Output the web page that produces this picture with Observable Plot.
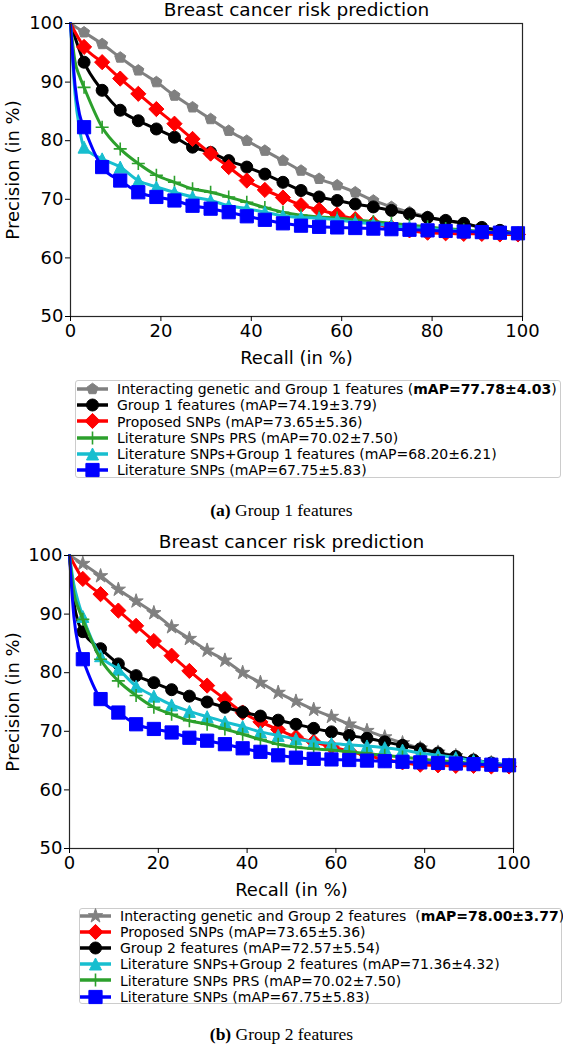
<!DOCTYPE html>
<html><head><meta charset="utf-8">
<script src="https://cdn.jsdelivr.net/npm/d3@7"></script>
<script src="https://cdn.jsdelivr.net/npm/@observablehq/plot@0.6"></script>
<style>
body{margin:0;background:#fff;}
#page{position:relative;width:563px;height:1045px;overflow:hidden;background:#fff;font-family:"DejaVu Sans",sans-serif;}
.panel{position:absolute;left:0;}
.legend{position:absolute;border:1px solid #cccccc;border-radius:3px;background:#fff;box-sizing:border-box;}
.row{position:absolute;height:16px;line-height:16px;font-size:14px;white-space:pre;color:#000;font-family:"DejaVu Sans",sans-serif;}
.sw{position:absolute;overflow:visible;}
.caption{position:absolute;left:0;width:563px;text-align:center;font-family:"Liberation Serif","Times New Roman",serif;font-size:17.5px;line-height:17px;color:#000;}
</style></head><body><div id="page"></div><script>
// ---------- data ----------
const title = "Breast cancer risk prediction";
const xLabel = "Recall (in %)";
const yLabel = "Precision (in %)";
const xTicks = [0, 20, 40, 60, 80, 100];
const yTicks = [50, 60, 70, 80, 90, 100];

// recall positions of the markers
const recall = [3,7,11,15,19,23,27,31,35,39,43,47,51,55,59,63,67,71,75,79,83,87,91,95,99];
// recall positions of the curve start (no markers)
const leadRecall = [0, 1, 2];

// panel (a)
const interact1Lead = [100, null, null];
const interact1Prec = [98.5,96.5,94.2,92.0,90.0,87.7,85.7,83.7,81.7,80.0,78.3,76.6,74.9,73.5,72.4,71.2,69.8,68.7,67.8,67.0,66.4,65.8,65.2,64.6,64.1];
const group1Lead = [100, null, null];
const group1Prec = [93.4,88.6,85.2,83.4,82.0,80.6,78.9,78.0,76.6,75.5,74.3,72.9,71.5,70.4,69.8,69.2,68.7,68.1,67.5,66.9,66.4,65.9,65.2,64.7,64.1];
const litGroup1Lead = [100, 88, 82];
const litGroup1Prec = [78.9,76.9,75.5,73.2,72.1,71.2,70.4,69.8,68.9,68.4,67.8,67.2,66.9,66.8,66.5,66.1,65.8,65.5,65.2,65.0,64.8,64.6,64.4,64.3,64.2];

// panel (b)
const interact2Lead = [100, null, null];
const interact2Prec = [98.6,96.5,94.2,92.2,90.2,87.8,85.8,83.8,82.1,80.0,78.3,76.6,75.1,73.7,72.5,71.2,70.1,69.0,68.0,67.1,66.4,65.8,65.1,64.6,64.2];
const group2Lead = [100, 92, 88.5];
const group2Prec = [87.0,84.1,81.5,79.5,78.3,77.1,76.0,75.0,74.1,73.3,72.6,71.9,71.2,70.5,69.9,69.3,68.8,68.2,67.6,67.0,66.3,65.7,65.1,64.6,64.2];
const litGroup2Lead = [100, 95, 92];
const litGroup2Prec = [89.6,82.9,80.6,77.7,76.0,74.5,73.4,72.5,71.6,70.8,69.9,69.3,68.7,68.2,67.9,67.7,67.5,67.2,66.8,66.3,65.9,65.5,65.0,64.6,64.2];

// shared by both panels
const proposedLead = [100, null, null];
const proposedPrec = [96.0,93.4,90.6,88.0,85.4,82.9,80.3,77.8,75.5,73.2,71.6,70.3,69.0,68.2,67.4,66.6,65.9,65.2,64.7,64.3,64.2,64.1,64.1,64.0,64.0];
const prsLead = [100, 93.5, 91];
const prsPrec = [89.1,82.3,78.6,76.1,74.1,72.9,71.8,71.2,70.4,69.5,68.6,67.8,67.3,67.0,66.8,66.5,66.2,65.9,65.6,65.3,65.0,64.8,64.5,64.3,64.2];
const litLead = [100, 89.5, 84.5];
const litPrec = [82.3,75.5,73.2,71.2,70.4,69.8,68.9,68.4,67.8,67.1,66.5,65.9,65.5,65.3,65.2,65.1,65.0,64.9,64.8,64.7,64.6,64.5,64.4,64.3,64.2];

// legend texts
const legendA = ["Interacting genetic and Group 1 features (", "Group 1 features (mAP=74.19±3.79)", "Proposed SNPs (mAP=73.65±5.36)", "Literature SNPs PRS (mAP=70.02±7.50)", "Literature SNPs+Group 1 features (mAP=68.20±6.21)", "Literature SNPs (mAP=67.75±5.83)"];
const legendABold = "mAP=77.78±4.03";
const legendB = ["Interacting genetic and Group 2 features  (", "Proposed SNPs (mAP=73.65±5.36)", "Group 2 features (mAP=72.57±5.54)", "Literature SNPs+Group 2 features (mAP=71.36±4.32)", "Literature SNPs PRS (mAP=70.02±7.50)", "Literature SNPs (mAP=67.75±5.83)"];
const legendBBold = "mAP=78.00±3.77";
const captionA = ["(a)", " Group 1 features"];
const captionB = ["(b)", " Group 2 features"];

// ---------- symbols ----------
const R = s => Math.sqrt(s / Math.PI);
const symCircle = {draw(c, s){const r = R(s); c.moveTo(r, 0); c.arc(0, 0, r, 0, 2 * Math.PI); c.closePath();}};
const symPentagon = {draw(c, s){const r = R(s); for (let k = 0; k < 5; k++){const a = -Math.PI/2 + k*2*Math.PI/5; const x = r*Math.cos(a), y = r*Math.sin(a); k ? c.lineTo(x, y) : c.moveTo(x, y);} c.closePath();}};
const symStar = {draw(c, s){const r = R(s), ri = r * 0.381966; for (let k = 0; k < 10; k++){const a = -Math.PI/2 + k*Math.PI/5; const rr = k % 2 ? ri : r; const x = rr*Math.cos(a), y = rr*Math.sin(a); k ? c.lineTo(x, y) : c.moveTo(x, y);} c.closePath();}};
const symDiamond = {draw(c, s){const r = R(s); c.moveTo(0, -r); c.lineTo(r, 0); c.lineTo(0, r); c.lineTo(-r, 0); c.closePath();}};
const symTriangle = {draw(c, s){const r = R(s); c.moveTo(0, -r); c.lineTo(r, r); c.lineTo(-r, r); c.closePath();}};
const symSquare = {draw(c, s){const r = R(s); c.rect(-r, -r, 2*r, 2*r);}};
const symPlus = {draw(c, s){const r = R(s); c.moveTo(-r, 0); c.lineTo(r, 0); c.moveTo(0, -r); c.lineTo(0, r);}};

const GRAY = "#808080", BLACK = "#000000", RED = "#ff0000", GREEN = "#2ca02c", CYAN = "#17becf", BLUE = "#0000ff";

function series(lead, prec, color, symbol, r, plus = false){
  const pts = [];
  leadRecall.forEach((x, i) => { if (lead[i] != null) pts.push({x, y: lead[i]}); });
  const marks = recall.map((x, i) => ({x, y: prec[i]}));
  return {line: pts.concat(marks), marks, color, symbol, r, plus};
}

const seriesA = [
  series(interact1Lead, interact1Prec, GRAY, symPentagon, 5.8),
  series(group1Lead, group1Prec, BLACK, symCircle, 6),
  series(proposedLead, proposedPrec, RED, symDiamond, 7.6),
  series(prsLead, prsPrec, GREEN, symPlus, 6.5, true),
  series(litGroup1Lead, litGroup1Prec, CYAN, symTriangle, 6),
  series(litLead, litPrec, BLUE, symSquare, 6.6)
];
const seriesB = [
  series(interact2Lead, interact2Prec, GRAY, symStar, 7.5),
  series(proposedLead, proposedPrec, RED, symDiamond, 7.6),
  series(group2Lead, group2Prec, BLACK, symCircle, 6),
  series(litGroup2Lead, litGroup2Prec, CYAN, symTriangle, 6),
  series(prsLead, prsPrec, GREEN, symPlus, 6.5, true),
  series(litLead, litPrec, BLUE, symSquare, 6.6)
];

function panel(ser, m){
  const marks = [];
  for (const s of ser){
    marks.push(Plot.line(s.line, {x: "x", y: "y", stroke: s.color, strokeWidth: 3, curve: "monotone-x"}));
    marks.push(Plot.dot(s.marks, {x: "x", y: "y", symbol: s.symbol, r: s.r,
      fill: s.plus ? "none" : s.color, stroke: s.color, strokeWidth: s.plus ? 1.6 : 1}));
  }
  marks.push(Plot.frame({stroke: "#262626", strokeWidth: 1.2}));
  marks.push(Plot.axisX({ticks: xTicks, tickSize: 5, tickPadding: 3, tickFormat: d => String(d), label: xLabel, labelAnchor: "center", labelOffset: 47, labelArrow: "none"}));
  marks.push(Plot.axisY({ticks: yTicks, tickSize: 5, tickPadding: 2, tickFormat: d => String(d), label: yLabel, labelAnchor: "center", labelOffset: m.left - 6, labelArrow: "none"}));
  marks.push(Plot.text([title], {text: d => d, frameAnchor: "top", dy: -8, lineAnchor: "bottom", fontSize: 18.5}));
  return Plot.plot({
    width: 563, height: m.height,
    marginLeft: m.left, marginRight: m.right, marginTop: m.top, marginBottom: m.bottom,
    x: {domain: [0, 100]}, y: {domain: [50, 100]},
    style: {fontFamily: "DejaVu Sans, sans-serif", fontSize: "18px", color: "#000", background: "transparent", overflow: "visible"},
    marks
  });
}

const page = document.getElementById("page");
function place(el, top){ el.classList.add("panel"); el.style.top = top + "px"; page.appendChild(el); }

place(panel(seriesA, {height: 372, left: 70, right: 41, top: 23, bottom: 56}), 0);
place(panel(seriesB, {height: 372, left: 69, right: 50, top: 25, bottom: 54}), 530);

function legend(ser, texts, bold, box, rowTop, lineX0, lineX1, textX){
  const b = document.createElement("div");
  b.className = "legend";
  Object.assign(b.style, {left: box[0] + "px", top: box[1] + "px", width: (box[2] - box[0]) + "px", height: (box[3] - box[1]) + "px"});
  page.appendChild(b);
  ser.forEach((s, i) => {
    const cy = rowTop + i * 16.2;
    const ns = "http://www.w3.org/2000/svg";
    const svg = document.createElementNS(ns, "svg");
    svg.setAttribute("class", "sw");
    svg.setAttribute("width", lineX1 - lineX0 + 20);
    svg.setAttribute("height", 20);
    svg.style.left = (lineX0 - 10) + "px";
    svg.style.top = (cy - 10) + "px";
    const ln = document.createElementNS(ns, "line");
    ln.setAttribute("x1", 10); ln.setAttribute("x2", 10 + lineX1 - lineX0);
    ln.setAttribute("y1", 10); ln.setAttribute("y2", 10);
    ln.setAttribute("stroke", s.color); ln.setAttribute("stroke-width", 3.5);
    svg.appendChild(ln);
    const p = d3.path(); s.symbol.draw(p, s.r * s.r * Math.PI);
    const path = document.createElementNS(ns, "path");
    path.setAttribute("d", p.toString());
    path.setAttribute("transform", `translate(${10 + (lineX1 - lineX0) / 2},10)`);
    path.setAttribute("fill", s.plus ? "none" : s.color);
    path.setAttribute("stroke", s.color);
    path.setAttribute("stroke-width", s.plus ? 1.6 : 1);
    svg.appendChild(path);
    page.appendChild(svg);
    const t = document.createElement("div");
    t.className = "row";
    t.style.left = textX + "px";
    t.style.top = (cy - 7.8) + "px";
    t.textContent = texts[i];
    if (i === 0){
      const bb = document.createElement("b"); bb.textContent = bold; t.appendChild(bb);
      t.appendChild(document.createTextNode(")"));
    }
    page.appendChild(t);
  });
}
legend(seriesA, legendA, legendABold, [75, 380, 561, 477.5], 389, 77, 108, 117);
legend(seriesB, legendB, legendBBold, [79, 908, 562, 1003.5], 915.5, 80, 111, 120);

function caption(parts, top){
  const d = document.createElement("div");
  d.className = "caption";
  d.style.top = top + "px";
  const b = document.createElement("b"); b.textContent = parts[0];
  d.appendChild(b); d.appendChild(document.createTextNode(parts[1]));
  page.appendChild(d);
}
caption(captionA, 502);
caption(captionB, 1026);
</script></body></html>
